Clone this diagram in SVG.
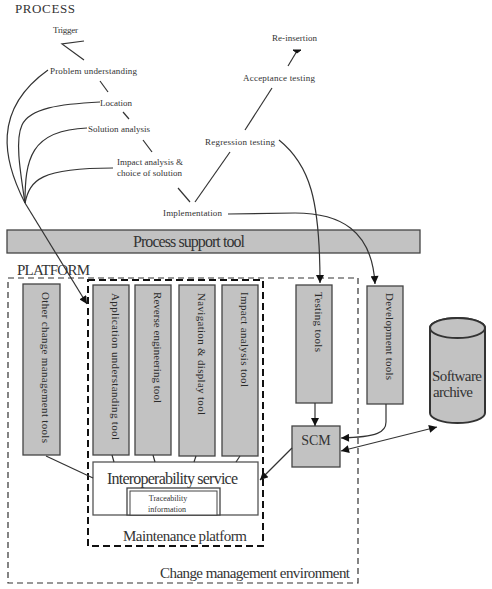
<svg xmlns="http://www.w3.org/2000/svg" width="492" height="589" viewBox="0 0 492 589">
<style>
.lbl{font-family:"Liberation Serif","Times New Roman",serif;fill:#333}
.s{font-size:9px}
.tool{fill:#c2c2c2;stroke:#444;stroke-width:1.3}
.tl{font-family:"Liberation Serif","Times New Roman",serif;font-size:11px;fill:#2a2a2a}
.ln{fill:none;stroke:#333;stroke-width:1.2}
</style>
<defs>
<marker id="arr" viewBox="0 0 10 10" refX="10" refY="5" markerWidth="9" markerHeight="8" markerUnits="userSpaceOnUse" orient="auto-start-reverse">
<path d="M0,0 L10,5 L0,10 z" fill="#111"/>
</marker>
</defs>
<rect width="492" height="589" fill="#fff"/>

<text class="lbl" x="15" y="13" font-size="13" textLength="60">PROCESS</text>

<g id="process-steps">
<text class="lbl s" x="53" y="33" textLength="25">Trigger</text>
<text class="lbl s" x="50" y="74" textLength="87">Problem understanding</text>
<text class="lbl s" x="100" y="106" textLength="32">Location</text>
<text class="lbl s" x="88" y="132" textLength="62">Solution analysis</text>
<text class="lbl s" x="117" y="165" textLength="66">Impact analysis &amp;</text>
<text class="lbl s" x="117" y="176" textLength="65">choice of solution</text>
<text class="lbl s" x="163" y="216" textLength="59">Implementation</text>
<text class="lbl s" x="205" y="145" textLength="70">Regression testing</text>
<text class="lbl s" x="243" y="81" textLength="72">Acceptance testing</text>
<text class="lbl s" x="272" y="41" textLength="45">Re-insertion</text>
</g>

<g id="process-support-tool">
<rect x="7" y="230" width="413" height="23" fill="#c2c2c2" stroke="#444" stroke-width="1.3"/>
<text class="lbl" x="133" y="247" font-size="16" textLength="112">Process support tool</text>
</g>

<text class="lbl" x="17" y="275" font-size="15" textLength="73">PLATFORM</text>

<g id="change-management-environment">
<rect x="8" y="278" width="350" height="305" fill="none" stroke="#333" stroke-width="1.2" stroke-dasharray="6,4"/>
<text class="lbl" x="160" y="578" font-size="15" textLength="190">Change management environment</text>
</g>

<g id="maintenance-platform">
<rect x="88" y="280" width="175" height="266" fill="none" stroke="#111" stroke-width="2" stroke-dasharray="7,4"/>
<text class="lbl" x="123" y="541" font-size="15" textLength="124">Maintenance platform</text>
</g>

<g id="other-tools">
<rect class="tool" x="23" y="284" width="37" height="171"/>
<text class="tl" transform="translate(42,292) rotate(90)" textLength="151">Other change management tools</text>
</g>
<g id="application-understanding-tool">
<rect class="tool" x="93" y="285" width="36" height="170"/>
<text class="tl" transform="translate(111.5,293) rotate(90)" textLength="147">Application understanding tool</text>
</g>
<g id="reverse-engineering-tool">
<rect class="tool" x="135" y="285" width="36" height="170"/>
<text class="tl" transform="translate(153.5,292) rotate(90)" textLength="111">Reverse engineering tool</text>
</g>
<g id="navigation-display-tool">
<rect class="tool" x="179" y="285" width="36" height="171"/>
<text class="tl" transform="translate(197.5,293) rotate(90)" textLength="122">Navigation &amp; display tool</text>
</g>
<g id="impact-analysis-tool">
<rect class="tool" x="222" y="285" width="36" height="171"/>
<text class="tl" transform="translate(240.5,292) rotate(90)" textLength="95">Impact analysis tool</text>
</g>
<g id="testing-tools">
<rect class="tool" x="296" y="285" width="36" height="118"/>
<text class="tl" transform="translate(314.5,292) rotate(90)" textLength="60">Testing tools</text>
</g>
<g id="development-tools">
<rect class="tool" x="367" y="286" width="36" height="118"/>
<text class="tl" transform="translate(385.5,293) rotate(90)" textLength="87">Development tools</text>
</g>
<g id="scm">
<rect class="tool" x="292" y="426" width="48" height="41"/>
<text class="lbl" x="316" y="445" font-size="14" text-anchor="middle">SCM</text>
</g>
<g id="software-archive">
<path d="M430,328 V413 A27.5,10 0 0 0 485,413 V328 A27.5,10 0 0 0 430,328 Z" fill="#c2c2c2" stroke="#333" stroke-width="2"/>
<ellipse cx="457.5" cy="328" rx="27.5" ry="10" fill="#c2c2c2" stroke="#333" stroke-width="2"/>
<text class="lbl" x="432" y="381" font-size="15" textLength="50">Software</text>
<text class="lbl" x="433" y="397" font-size="15" textLength="40">archive</text>
</g>
<g id="interoperability-service">
<rect x="93" y="462" width="165" height="53" fill="#fff" stroke="#555" stroke-width="1.3"/>
<text class="lbl" x="107" y="484" font-size="16" textLength="131">Interoperability service</text>
</g>
<g id="traceability-information">
<rect x="127" y="488" width="93" height="27" fill="#fff" stroke="#444" stroke-width="1.3"/>
<rect x="130" y="491" width="87" height="24" fill="#fff" stroke="#444" stroke-width="1"/>
<text class="lbl" x="168" y="501" font-size="8" text-anchor="middle">Traceability</text>
<text class="lbl" x="167" y="512" font-size="8" text-anchor="middle">information</text>
</g>

<g id="connectors">
<polyline class="ln" points="84,60 62,44 84,41" stroke-width="1.4"/>
<line class="ln" x1="100" y1="81" x2="108" y2="92"/>
<line class="ln" x1="123" y1="112" x2="129" y2="119"/>
<line class="ln" x1="143" y1="140" x2="152" y2="152"/>
<line class="ln" x1="178" y1="188" x2="190" y2="202"/>
<line class="ln" x1="195" y1="202" x2="230" y2="152"/>
<line class="ln" x1="245" y1="130" x2="272" y2="88"/>
<line class="ln" x1="288" y1="66" x2="297" y2="51"/>
<path d="M293,50 L301,50 L297,53 z" fill="#111" stroke="#111" stroke-width="1"/>
<path class="ln" d="M25,203 C3,160 -8,110 48,70"/>
<path class="ln" d="M25,203 C20,170 15,140 22,125 C30,108 60,104 100,102"/>
<path class="ln" d="M25,203 C25,160 30,130 87,128"/>
<path class="ln" d="M25,203 C30,180 40,168 113,168"/>
<line class="ln" x1="25" y1="203" x2="87" y2="304" marker-end="url(#arr)"/>
<path class="ln" d="M279,140 C310,165 320,200 320,283" marker-end="url(#arr)"/>
<path class="ln" d="M228,214 L295,213 C340,213 372,230 375,284" marker-end="url(#arr)"/>
<line class="ln" x1="112" y1="455" x2="114" y2="462"/>
<line class="ln" x1="153" y1="455" x2="155" y2="462"/>
<line class="ln" x1="196" y1="456" x2="194" y2="462"/>
<line class="ln" x1="240" y1="456" x2="236" y2="462"/>
<line class="ln" x1="46" y1="456" x2="93" y2="478"/>
<line class="ln" x1="292" y1="448" x2="260" y2="480" marker-end="url(#arr)"/>
<line class="ln" x1="315" y1="403" x2="315" y2="426" marker-end="url(#arr)"/>
<path class="ln" d="M386,404 V422 C386,432 378,437 341,438" marker-end="url(#arr)"/>
<line class="ln" x1="341" y1="451" x2="437" y2="427" marker-start="url(#arr)" marker-end="url(#arr)"/>
</g>
</svg>
